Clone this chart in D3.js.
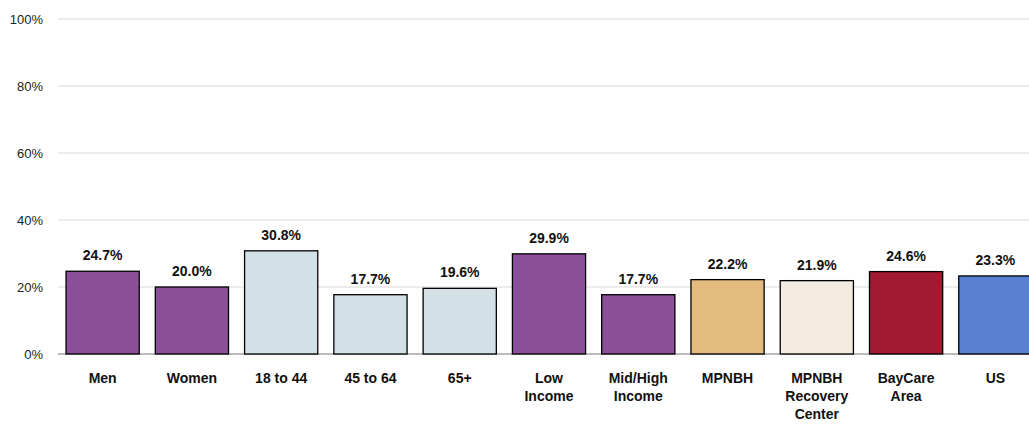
<!DOCTYPE html>
<html><head><meta charset="utf-8">
<script src="https://cdn.jsdelivr.net/npm/d3@7"></script>
<style>body{margin:0;background:#fff}svg{display:block}</style>
</head><body>
<svg id="c" width="1029" height="424"></svg>
<script>
const categories = ["Men","Women","18 to 44","45 to 64","65+","Low Income","Mid/High Income","MPNBH","MPNBH Recovery Center","BayCare Area","US"];
const labelLines = [["Men"],["Women"],["18 to 44"],["45 to 64"],["65+"],["Low","Income"],["Mid/High","Income"],["MPNBH"],["MPNBH","Recovery","Center"],["BayCare","Area"],["US"]];
const values = [24.7,20.0,30.8,17.7,19.6,29.9,17.7,22.2,21.9,24.6,23.3];
const colors = ["#8c4f9a","#8c4f9a","#d3e1e6","#d3e1e6","#d3e1e6","#8c4f9a","#8c4f9a","#e4bb7e","#f3ebe0","#a21a30","#5981d2"];
const yTicks = [0,20,40,60,80,100];

const svg = d3.select("#c");
const x = d3.scaleBand().domain(categories).range([58,1040]).paddingInner(0.18).paddingOuter(0.09);
const y = d3.scaleLinear().domain([0,100]).range([354,19]);
const font = "'Liberation Sans', Arial, sans-serif";

svg.append("g").selectAll("line").data(yTicks).join("line")
  .attr("x1",58).attr("x2",1029).attr("y1",d=>y(d)).attr("y2",d=>y(d))
  .attr("stroke",d=>d===0?"#a6a6a6":"#d9d9d9").attr("stroke-width",d=>d===0?1.5:1);

svg.append("g").selectAll("text").data(yTicks).join("text")
  .attr("x",43).attr("y",d=>y(d)).attr("dy","0.35em").attr("text-anchor","end")
  .attr("font-family",font).attr("font-size",13).attr("fill","#222")
  .text(d=>d+"%");

svg.append("g").selectAll("rect").data(values).join("rect")
  .attr("x",(d,i)=>x(categories[i])).attr("width",x.bandwidth())
  .attr("y",d=>y(d)).attr("height",d=>y(0)-y(d))
  .attr("fill",(d,i)=>colors[i]).attr("stroke","#000").attr("stroke-width",1.3);

svg.append("g").selectAll("text").data(values).join("text")
  .attr("x",(d,i)=>x(categories[i])+x.bandwidth()/2).attr("y",d=>y(d)-11)
  .attr("text-anchor","middle").attr("font-family",font).attr("font-size",14).attr("font-weight","bold").attr("fill","#111")
  .text(d=>d.toFixed(1)+"%");

const lab = svg.append("g").selectAll("text").data(categories).join("text")
  .attr("x",d=>x(d)+x.bandwidth()/2).attr("y",383)
  .attr("text-anchor","middle").attr("font-family",font).attr("font-size",14).attr("font-weight","bold").attr("fill","#111");
lab.each(function(d,i){
  d3.select(this).selectAll("tspan").data(labelLines[i]).join("tspan")
    .attr("x",x(d)+x.bandwidth()/2).attr("dy",(t,j)=>j===0?0:"1.3em").text(t=>t);
});
</script>
</body></html>
